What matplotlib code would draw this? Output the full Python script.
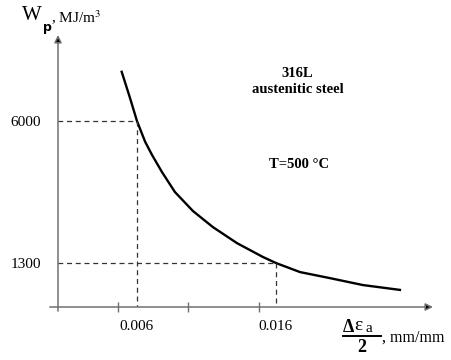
import numpy as np
import matplotlib.pyplot as plt
from matplotlib.lines import Line2D

# strain amplitude (delta eps_a / 2) vs plastic strain energy W_p
strain = [0.00490, 0.00550, 0.0060, 0.00659, 0.00708, 0.00780, 0.00873, 0.01003,
          0.01146, 0.01319, 0.01506, 0.0160, 0.01773, 0.01988, 0.02226, 0.02492]
wp     = [7630, 6760, 6000, 5310, 4880, 4310, 3650, 3020,
          2490, 1960, 1500, 1300, 1000, 800, 570, 410]

marked_x = [0.006, 0.016]
marked_y = [6000, 1300]
x_labels = ['0.006', '0.016']
y_labels = ['6000', '1300']
minor_x  = [0.0046, 0.0097, 0.0148]

plt.rcParams['font.family'] = ['Liberation Serif', 'DejaVu Serif']
plt.rcParams['mathtext.fontset'] = 'stix'

fig = plt.figure(figsize=(4.51, 3.6), dpi=100)
ax = fig.add_axes([58/451, 53/360, 375/451, 272/360])
ax.set_xlim(0.000317, 0.0273)
ax.set_ylim(-156, 8848)

for s in ax.spines.values():
    s.set_visible(False)

axis_col = '#707070'
ax.annotate('', xy=(1, 0), xytext=(-0.022, 0), xycoords='axes fraction',
            arrowprops=dict(arrowstyle='-|>', color=axis_col, lw=1.1, mutation_scale=11,
                            fc='black', shrinkA=0, shrinkB=0))
ax.annotate('', xy=(0, 1), xytext=(0, -0.015), xycoords='axes fraction',
            arrowprops=dict(arrowstyle='-|>', color=axis_col, lw=1.1, mutation_scale=11,
                            fc='black', shrinkA=0, shrinkB=0))

# curve
ax.plot(strain, wp, '-', color='black', linewidth=1.7, solid_joinstyle='round')

# dashed guides
for xv, yv in zip(marked_x, marked_y):
    ax.plot([-0.0003, xv], [yv, yv], '--', color='#333333', linewidth=0.9, dashes=(4, 3))
    ax.plot([xv, xv], [yv, -250], '--', color='#333333', linewidth=0.9, dashes=(4, 3))

ax.set_xticks(marked_x, x_labels, fontsize=11)
ax.set_xticks(minor_x, minor=True)
ax.tick_params(axis='x', which='major', length=0, pad=9)
ax.tick_params(axis='x', which='minor', direction='inout', length=7, color=axis_col, width=1)
ax.set_yticks(marked_y, y_labels, fontsize=11)
ax.tick_params(axis='y', length=0, pad=12)

# text annotations
ax.text(0.01755, 7560, '316L', ha='center', va='center', fontsize=10.5, fontweight='bold')
ax.text(0.01755, 7060, 'austenitic steel', ha='center', va='center', fontsize=10.5, fontweight='bold')
ax.text(0.01765, 4560, 'T=500 °C', ha='center', va='center', fontsize=10.5, fontweight='bold')

# y axis label
fig.text(22/451, 1 - 16/360, 'W', fontsize=15, va='center', ha='left')
fig.text(43/451, 1 - 27/360, 'p', fontsize=9, va='center', ha='left',
         fontweight='bold', family='DejaVu Sans')
fig.text(51/451, 1 - 18/360, ', MJ/m$^3$', fontsize=11, va='center', ha='left')

# x axis label: fraction (delta eps_a) / 2
fig.text(343/451, 1 - 327/360, 'Δ', fontsize=13, fontweight='bold', va='center', ha='left')
fig.text(354/451, 1 - 326/360, 'ε', fontsize=14, va='center', ha='left')
fig.text(366/451, 1 - 329/360, 'a', fontsize=11, va='center', ha='left')
fig.add_artist(Line2D([343/451, 381/451], [1 - 336/360, 1 - 336/360],
                      transform=fig.transFigure, color='black', linewidth=1.4))
fig.text(362/451, 1 - 348/360, '2', fontsize=13, fontweight='bold', va='center', ha='center')
fig.text(382/451, 1 - 338/360, ', mm/mm', fontsize=11.5, va='center', ha='left')

fig.savefig('out.png', dpi=100)
